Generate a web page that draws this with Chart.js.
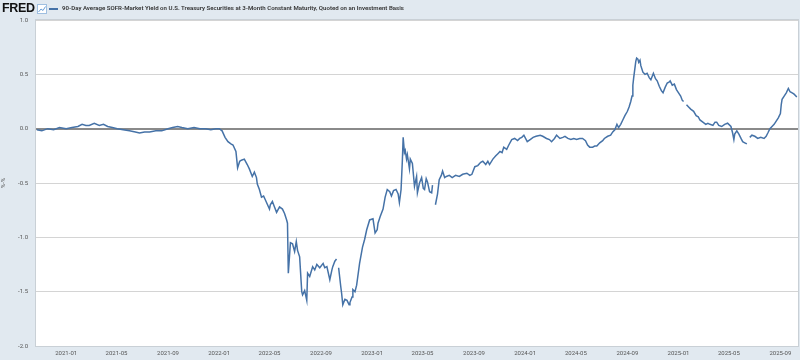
<!DOCTYPE html>
<html>
<head>
<meta charset="utf-8">
<script src="https://cdn.jsdelivr.net/npm/chart.js@4.4.1/dist/chart.umd.min.js"></script>
<style>
  html, body { margin: 0; padding: 0; background: #e1e9f0; }
  #wrap { position: relative; width: 800px; height: 360px; }
  #logo { position: absolute; left: 2px; top: 1px; font: bold 12.5px "Liberation Sans", Arial, sans-serif; color: #111; letter-spacing: -0.3px; }
  #icon { position: absolute; left: 37px; top: 4px; }
  #legline { position: absolute; left: 49px; top: 8px; width: 9px; height: 1.5px; background: #4572a7; }
  #legtext { position: absolute; left: 62px; top: 4px; font: 600 6.1px Roboto, sans-serif; color: #333; white-space: nowrap; }
</style>
</head>
<body>
<div id="wrap">
  <canvas id="chart" width="800" height="360"></canvas>
  <div id="logo">FRED</div>
  <svg id="icon" width="10" height="10" viewBox="0 0 10 10"><rect x="0.5" y="0.5" width="9" height="9" fill="#fff" stroke="#9fbfe0"/><polyline points="1.5,8 4,5 6,6.5 8.5,2.5" fill="none" stroke="#6aa0d8" stroke-width="1"/></svg>
  <div id="legline"></div>
  <div id="legtext">90-Day Average SOFR-Market Yield on U.S. Treasury Securities at 3-Month Constant Maturity, Quoted on an Investment Basis</div>
</div>
<script>
const seriesName = "90-Day Average SOFR-Market Yield on U.S. Treasury Securities at 3-Month Constant Maturity, Quoted on an Investment Basis";

const dates = [
  "2020-10-23","2020-11-04","2020-11-18","2020-12-02","2020-12-16","2021-01-01","2021-01-15","2021-01-29",
  "2021-02-08","2021-02-17","2021-02-25","2021-03-09","2021-03-21","2021-03-31","2021-04-10","2021-04-21",
  "2021-05-03","2021-05-17","2021-06-01","2021-06-15","2021-06-25","2021-07-07","2021-07-19","2021-08-03",
  "2021-08-17","2021-09-01","2021-09-12","2021-09-24","2021-10-04","2021-10-18","2021-11-02","2021-11-16",
  "2021-11-30","2021-12-12","2021-12-24","2022-01-01","2022-01-08","2022-01-15","2022-01-22","2022-01-29",
  "2022-02-03","2022-02-10","2022-02-14","2022-02-19","2022-02-23","2022-03-02","2022-03-09","2022-03-14",
  "2022-03-21","2022-03-26","2022-03-31","2022-04-02","2022-04-07","2022-04-12","2022-04-17","2022-04-24",
  "2022-05-01","2022-05-03","2022-05-08","2022-05-13","2022-05-18","2022-05-25","2022-06-01","2022-06-06",
  "2022-06-11","2022-06-13","2022-06-15","2022-06-20","2022-06-25","2022-06-30","2022-07-04","2022-07-07",
  "2022-07-12","2022-07-17","2022-07-19","2022-07-24","2022-07-29","2022-07-31","2022-08-05","2022-08-12",
  "2022-08-17","2022-08-22","2022-08-29","2022-09-06","2022-09-10","2022-09-15","2022-09-22","2022-09-27",
  "2022-09-29","2022-10-04","2022-10-08","2022-10-10","2022-10-13","2022-10-18","2022-10-20","2022-10-23",
  "2022-10-28","2022-11-02","2022-11-07","2022-11-09","2022-11-14","2022-11-16","2022-11-21","2022-11-25",
  "2022-12-02","2022-12-09","2022-12-14","2022-12-19","2022-12-26","2023-01-03","2023-01-08","2023-01-13",
  "2023-01-15","2023-01-20","2023-01-27","2023-02-01","2023-02-06","2023-02-12","2023-02-16","2023-02-21",
  "2023-02-27","2023-03-04","2023-03-07","2023-03-11","2023-03-14","2023-03-16","2023-03-19","2023-03-21",
  "2023-03-24","2023-03-26","2023-03-31","2023-04-02","2023-04-07","2023-04-12","2023-04-17","2023-04-19",
  "2023-04-24","2023-04-29","2023-05-03","2023-05-06","2023-05-10","2023-05-13","2023-05-18","2023-05-23",
  "2023-05-25","2023-05-28","2023-06-01","2023-06-06","2023-06-10","2023-06-15","2023-06-18","2023-06-23",
  "2023-06-27","2023-07-04","2023-07-11","2023-07-19","2023-07-28","2023-08-05","2023-08-15","2023-08-22",
  "2023-08-27","2023-09-03","2023-09-10","2023-09-17","2023-09-22","2023-09-29","2023-10-04","2023-10-08",
  "2023-10-16","2023-10-23","2023-10-28","2023-11-02","2023-11-07","2023-11-11","2023-11-18","2023-11-23",
  "2023-11-30","2023-12-07","2023-12-14","2023-12-19","2023-12-24","2023-12-29","2024-01-06","2024-01-13",
  "2024-01-20","2024-01-27","2024-02-06","2024-02-12","2024-02-21","2024-02-28","2024-03-04","2024-03-11",
  "2024-03-16","2024-03-24","2024-03-31","2024-04-05","2024-04-12","2024-04-19","2024-04-26","2024-05-03",
  "2024-05-10","2024-05-17","2024-05-24","2024-05-29","2024-06-03","2024-06-10","2024-06-15","2024-06-20",
  "2024-06-27","2024-07-04","2024-07-08","2024-07-16","2024-07-23","2024-07-28","2024-08-02","2024-08-07",
  "2024-08-11","2024-08-16","2024-08-21","2024-08-26","2024-09-01","2024-09-05","2024-09-09","2024-09-12",
  "2024-09-14","2024-09-16","2024-09-21","2024-09-23","2024-09-26","2024-09-28","2024-10-01","2024-10-03",
  "2024-10-08","2024-10-13","2024-10-18","2024-10-23","2024-10-27","2024-11-02","2024-11-07","2024-11-11",
  "2024-11-16","2024-11-21","2024-11-25","2024-11-30","2024-12-05","2024-12-10","2024-12-12","2024-12-17",
  "2024-12-22","2024-12-27","2025-01-01","2025-01-06","2025-01-10","2025-01-13","2025-01-16","2025-01-20",
  "2025-01-25","2025-01-30","2025-02-06","2025-02-12","2025-02-17","2025-02-21","2025-02-28","2025-03-07",
  "2025-03-12","2025-03-17","2025-03-24","2025-03-29","2025-04-02","2025-04-07","2025-04-14","2025-04-21",
  "2025-04-28","2025-05-06","2025-05-10","2025-05-13","2025-05-15","2025-05-20","2025-05-25","2025-05-30",
  "2025-06-03","2025-06-08","2025-06-13","2025-06-16","2025-06-20","2025-06-25","2025-07-02","2025-07-09",
  "2025-07-16","2025-07-24","2025-07-29","2025-08-02","2025-08-07","2025-08-12","2025-08-17","2025-08-22",
  "2025-08-27","2025-09-01","2025-09-03","2025-09-05","2025-09-10","2025-09-15","2025-09-20","2025-09-24",
  "2025-09-29","2025-10-03","2025-10-08","2025-10-10"
];

const values = [
  -0.01,-0.02,0.00,-0.01,0.01,0.00,0.01,0.02,
  0.04,0.03,0.03,0.05,0.03,0.04,0.02,0.01,
  0.00,-0.01,-0.02,-0.03,-0.04,-0.03,-0.03,-0.02,
  -0.02,0.00,0.01,0.02,0.01,0.00,0.01,0.00,
  0.00,-0.01,0.00,0.00,-0.02,-0.08,-0.12,-0.14,
  -0.15,-0.21,-0.36,-0.30,-0.29,-0.28,-0.33,-0.37,
  -0.44,-0.40,-0.45,-0.51,-0.56,-0.63,-0.62,-0.68,
  -0.74,-0.70,-0.67,-0.72,-0.77,-0.72,-0.74,-0.78,
  -0.84,-0.87,-1.33,-1.05,-1.06,-1.13,-1.04,-1.12,
  -1.18,-1.50,-1.53,-1.49,-1.58,-1.33,-1.36,-1.27,
  -1.30,-1.25,-1.28,-1.24,-1.28,-1.27,-1.39,-1.30,
  -1.27,-1.22,-1.20,null,-1.28,-1.45,-1.51,-1.62,
  -1.57,-1.58,-1.62,-1.60,-1.55,-1.48,-1.50,-1.44,
  -1.24,-1.09,-1.02,-0.93,-0.84,-0.83,-0.96,-0.93,
  -0.87,-0.81,-0.74,-0.63,-0.56,-0.58,-0.62,-0.57,
  -0.56,-0.60,-0.68,-0.56,-0.30,-0.08,-0.22,-0.20,
  -0.28,-0.24,-0.37,-0.28,-0.32,-0.53,-0.44,-0.59,
  -0.50,-0.45,-0.55,-0.56,-0.46,-0.49,-0.58,-0.59,
  -0.52,null,-0.70,-0.60,-0.47,-0.43,-0.39,-0.45,
  -0.44,-0.43,-0.45,-0.43,-0.44,-0.42,-0.41,-0.43,
  -0.42,-0.35,-0.34,-0.31,-0.30,-0.33,-0.30,-0.33,
  -0.28,-0.25,-0.23,-0.21,-0.22,-0.17,-0.19,-0.15,
  -0.10,-0.09,-0.11,-0.09,-0.08,-0.06,-0.12,-0.10,
  -0.08,-0.07,-0.06,-0.07,-0.09,-0.10,-0.12,-0.09,
  -0.06,-0.09,-0.08,-0.07,-0.09,-0.10,-0.09,-0.10,
  -0.09,-0.09,-0.11,-0.15,-0.17,-0.17,-0.16,-0.16,
  -0.13,-0.11,-0.09,-0.07,-0.06,-0.03,-0.01,0.04,
  0.01,0.04,0.08,0.12,0.16,0.20,0.25,0.30,
  0.40,0.47,0.62,0.65,0.64,0.61,0.63,0.58,
  0.52,0.50,0.51,0.47,0.45,0.51,0.46,0.44,
  0.39,0.35,0.33,0.38,0.42,0.43,0.44,0.40,
  0.41,0.36,0.33,0.30,0.26,0.25,null,0.22,
  0.20,0.18,0.16,0.12,0.11,0.08,0.06,0.04,
  0.05,0.04,0.03,0.06,0.06,0.03,0.02,0.04,
  0.05,0.02,-0.04,-0.10,-0.05,-0.02,-0.05,-0.09,
  -0.12,-0.13,-0.14,null,-0.08,-0.06,-0.07,-0.09,
  -0.08,-0.09,-0.07,-0.04,0.00,0.02,0.04,0.07,
  0.10,0.14,0.22,0.27,0.30,0.33,0.37,0.34,
  0.33,0.32,0.30,0.29
];

const tickDates = ["2021-01-01","2021-05-01","2021-09-01","2022-01-01","2022-05-01","2022-09-01","2023-01-01","2023-05-01",
  "2023-09-01","2024-01-01","2024-05-01","2024-09-01","2025-01-01","2025-05-01","2025-09-01"];
const yTicks = [1.0, 0.5, 0.0, -0.5, -1.0, -1.5, -2.0];
const xStart = "2020-10-21";
const xEnd = "2025-10-13";

const points = dates.map((d, i) => ({ x: Date.parse(d), y: values[i] }));

const plotBg = {
  id: "plotBg",
  beforeDraw(chart) {
    const { ctx, chartArea: a } = chart;
    ctx.save();
    ctx.fillStyle = "#ffffff";
    ctx.fillRect(a.left, a.top, a.right - a.left, a.bottom - a.top);
    ctx.restore();
  },
  afterDraw(chart) {
    const { ctx, chartArea: a } = chart;
    ctx.save();
    ctx.strokeStyle = "#c9d0d6";
    ctx.lineWidth = 1;
    ctx.strokeRect(a.left - 0.5, a.top - 0.5, a.right - a.left + 1, a.bottom - a.top + 1);
    ctx.restore();
  }
};

new Chart("chart", {
  type: "line",
  data: {
    datasets: [{
      label: seriesName,
      data: points,
      borderColor: "#4572a7",
      borderWidth: 1.5,
      pointRadius: 0,
      tension: 0,
      spanGaps: false
    }]
  },
  options: {
    responsive: false,
    animation: false,
    layout: { padding: { top: 20, right: 2, left: 0, bottom: 0 } },
    plugins: { legend: { display: false }, tooltip: { enabled: false } },
    scales: {
      x: {
        type: "linear",
        min: Date.parse(xStart),
        max: Date.parse(xEnd),
        afterBuildTicks(scale) { scale.ticks = tickDates.map(d => ({ value: Date.parse(d) })); },
        afterFit(scale) { scale.height = 14; },
        grid: { display: false, drawTicks: false },
        border: { display: false },
        ticks: {
          autoSkip: false, maxRotation: 0, padding: 4,
          color: "#555", font: { family: "Roboto", size: 6 },
          callback: v => new Date(v).toISOString().slice(0, 7)
        }
      },
      y: {
        min: -2, max: 1,
        afterBuildTicks(scale) { scale.ticks = yTicks.map(v => ({ value: v })); },
        afterFit(scale) { scale.width = 36; },
        border: { display: false },
        grid: {
          drawTicks: false,
          color: c => c.tick.value === 0 ? "#8a8a8a" : "#d4d4d4",
          lineWidth: c => c.tick.value === 0 ? 2 : 1
        },
        ticks: {
          padding: 8, color: "#555", font: { family: "Roboto", size: 6 },
          callback: v => v.toFixed(1)
        },
        title: { display: true, text: "%-%", color: "#555", font: { family: "Roboto", size: 6 }, padding: 0 }
      }
    }
  },
  plugins: [plotBg]
});
</script>
</body>
</html>
